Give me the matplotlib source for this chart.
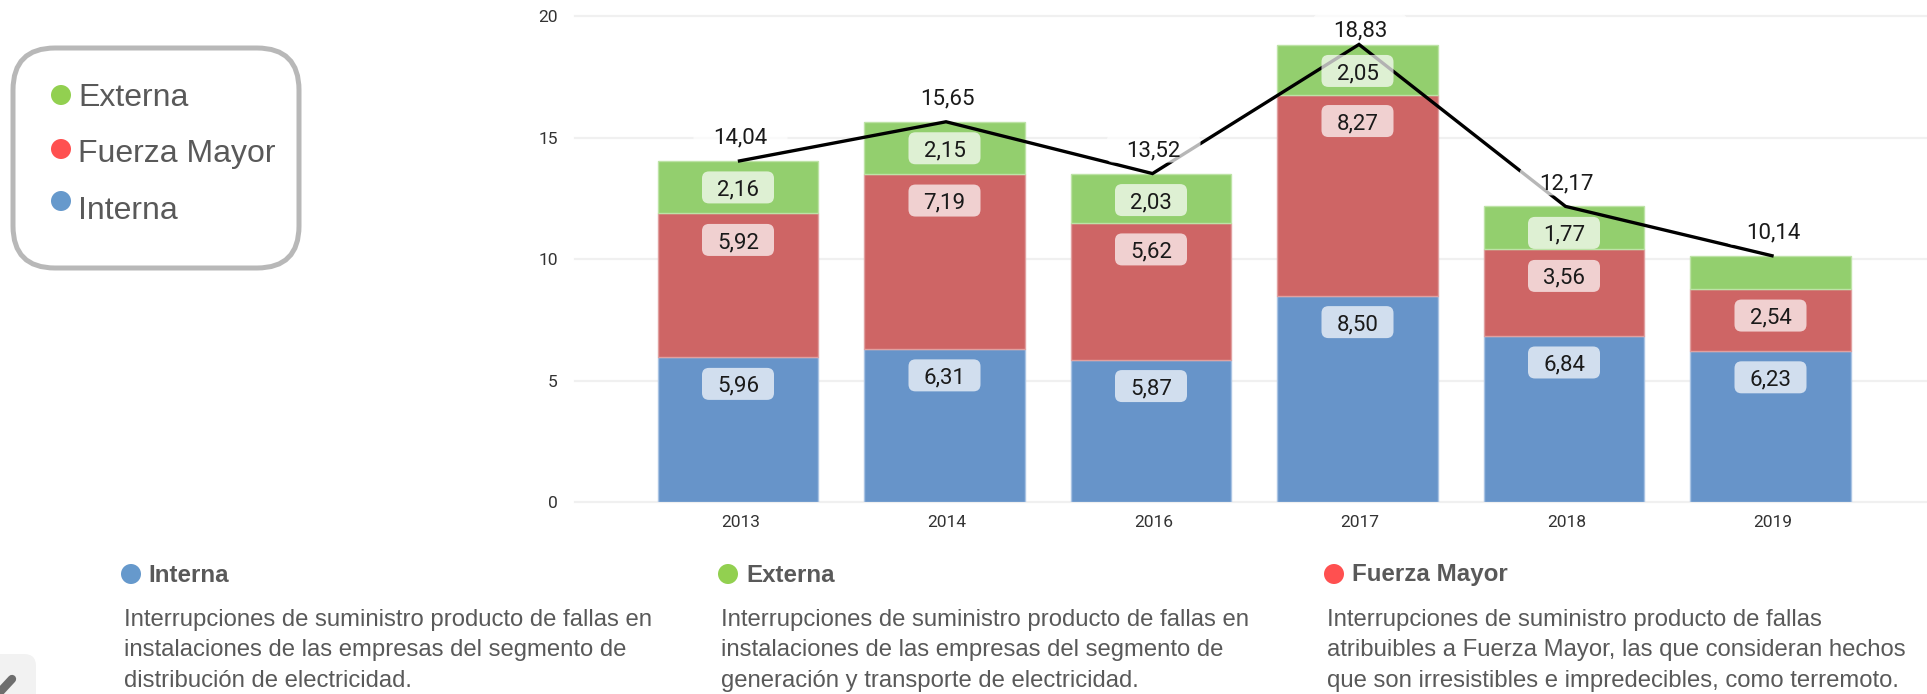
import matplotlib
matplotlib.use("Agg")
import matplotlib.pyplot as plt
from matplotlib.patches import FancyBboxPatch, Ellipse
from matplotlib.transforms import Affine2D

W, H = 1927, 694
years = ["2013", "2014", "2016", "2017", "2018", "2019"]
interna = [5.96, 6.31, 5.87, 8.50, 6.84, 6.23]
fuerza = [5.92, 7.19, 5.62, 8.27, 3.56, 2.54]
externa = [2.16, 2.15, 2.03, 2.05, 1.77, 1.37]
totals = [14.04, 15.65, 13.52, 18.83, 12.17, 10.14]
externa_labels = ["2,16", "2,15", "2,03", "2,05", "1,77", None]
fuerza_labels = ["5,92", "7,19", "5,62", "8,27", "3,56", "2,54"]
interna_labels = ["5,96", "6,31", "5,87", "8,50", "6,84", "6,23"]
total_labels = ["14,04", "15,65", "13,52", "18,83", "12,17", "10,14"]
yticks = [0, 5, 10, 15, 20]

BLUE, RED, GREEN = "#6794C9", "#CE6565", "#93CF6E"
DOT_BLUE, DOT_RED, DOT_GREEN = "#6699CC", "#FF5050", "#92D050"
GREY = "#595959"
SANS = "Liberation Sans"
NUM = "Roboto"

fig = plt.figure(figsize=(W / 100, H / 100), dpi=100, facecolor="white")
ov = fig.add_axes([0, 0, 1, 1], zorder=0)
ov.set_xlim(0, W); ov.set_ylim(H, 0); ov.axis("off")

L, R, T, B = 575, 1927, 16, 502.3
ax = fig.add_axes([L / W, 1 - B / H, (R - L) / W, (B - T) / H], zorder=1)
ax.patch.set_alpha(0)
pitch, bw = 206.5, 160.5
first = 738
ax.set_xlim((L - first) / pitch, (R - first) / pitch)
ax.set_ylim(0, 20)
for s in ax.spines.values():
    s.set_visible(False)
ax.set_yticks(yticks)
ax.set_xticks(range(len(years)))
ax.set_xticklabels(years)
ax.tick_params(length=0, labelsize=12.5, colors="#333333")
ax.tick_params(axis="x", pad=9)
ax.tick_params(axis="y", pad=12.5)
for t in ax.get_xticklabels() + ax.get_yticklabels():
    t.set_fontfamily(NUM)
for t in ax.get_xticklabels():
    t.set_transform(t.get_transform() + Affine2D().translate(2.5, 0))
ax.grid(axis="y", color="#F0F0F0", lw=1.6, zorder=0, clip_on=False)
ax.set_axisbelow(True)

x = list(range(len(years)))
w = bw / pitch
kw = dict(width=w, linewidth=1, zorder=2)
ax.bar(x, interna, color=BLUE, edgecolor="#A9C3E3", **kw)
ax.bar(x, fuerza, bottom=interna, color=RED, edgecolor="#E0A0A0", **kw)
b3 = [a + b for a, b in zip(interna, fuerza)]
ax.bar(x, externa, bottom=b3, color=GREEN, edgecolor="#BDE3A6", **kw)
ax.plot(x, totals, color="black", lw=2.4, zorder=3, solid_joinstyle="miter",
        transform=ax.transData + Affine2D().translate(1.5, 0))


def label(xv, yv, txt, dy, bw_px, bh_px, alpha, size, dx=0, z=4):
    px, py = ax.transData.transform((xv, yv))
    cx, cy = px + dx, py + dy
    box = FancyBboxPatch((cx - bw_px / 2 + 6, cy - bh_px / 2 + 6), bw_px - 12, bh_px - 12,
                         boxstyle="round,pad=6,rounding_size=7", fc="white", ec="none",
                         alpha=alpha, transform=None, zorder=z)
    ax.add_artist(box)
    box.set_clip_on(False)
    ax.annotate(txt, xy=(cx, cy), xycoords="figure pixels", ha="center", va="center_baseline",
                fontsize=size, family=NUM, color="#1A1A1A", zorder=z + 1)


for i in x:
    label(i, interna[i], interna_labels[i], -26.5, 72, 32, 0.7, 16)
    label(i, b3[i], fuerza_labels[i], -26.5, 72, 32, 0.7, 16)
    if externa_labels[i]:
        label(i, totals[i], externa_labels[i], -26.5, 72, 32, 0.7, 16)
    dy = 16.5 if totals[i] > 18 else 25
    label(i, totals[i], total_labels[i], dy, 94, 28, 0.72, 16, dx=2.5)

# legend box
ov.add_patch(FancyBboxPatch((13 + 42, 48 + 42), 286 - 84, 220 - 84,
                            boxstyle="round,pad=42,rounding_size=42",
                            fc="white", ec="#B8B8B8", lw=3.6))
legend_names = ["Externa", "Fuerza Mayor", "Interna"]
legend_dots = [DOT_GREEN, DOT_RED, DOT_BLUE]
legend_dot_y = [95, 149, 201]
legend_text_y = [98, 154, 211]
for n, c, dy, ty in zip(legend_names, legend_dots, legend_dot_y, legend_text_y):
    ov.add_patch(Ellipse((61, dy), 20, 20, fc=c, ec="none"))
    ov.text(78, ty, n, family=SANS, fontsize=23, color=GREY, va="center")

# explanatory columns
col_heads = ["Interna", "Externa", "Fuerza Mayor"]
col_dots = [DOT_BLUE, DOT_GREEN, DOT_RED]
col_dot_x = [131, 728, 1334]
col_text_x = [124, 721, 1327]
col_head_x = [148, 746, 1352]
col_lines = [
    ["Interrupciones de suministro producto de fallas en",
     "instalaciones de las empresas del segmento de",
     "distribución de electricidad."],
    ["Interrupciones de suministro producto de fallas en",
     "instalaciones de las empresas del segmento de",
     "generación y transporte de electricidad."],
    ["Interrupciones de suministro producto de fallas",
     "atribuibles a Fuerza Mayor, las que consideran hechos",
     "que son irresistibles e impredecibles, como terremoto."],
]
line_y = [620, 650, 681]
for h, c, dx, tx, hx, lines in zip(col_heads, col_dots, col_dot_x, col_text_x, col_head_x, col_lines):
    ov.add_patch(Ellipse((dx, 574), 20, 20, fc=c, ec="none"))
    ov.text(hx, 575, h, family=SANS, fontsize=17.4, fontweight="bold", color=GREY, va="center")
    for yy, s in zip(line_y, lines):
        ov.text(tx, yy, s, family=SANS, fontsize=17.2, color=GREY, va="center")

# edit badge, bottom-left corner
ov.add_patch(FancyBboxPatch((-20, 666), 44, 40, boxstyle="round,pad=12,rounding_size=12",
                            fc="#F2F2F2", ec="none"))
ov.plot([-1, 12], [693, 679], color="#6E6E6E", lw=6, solid_capstyle="round", clip_on=True)

fig.savefig("out.png", dpi=100, facecolor="white")
